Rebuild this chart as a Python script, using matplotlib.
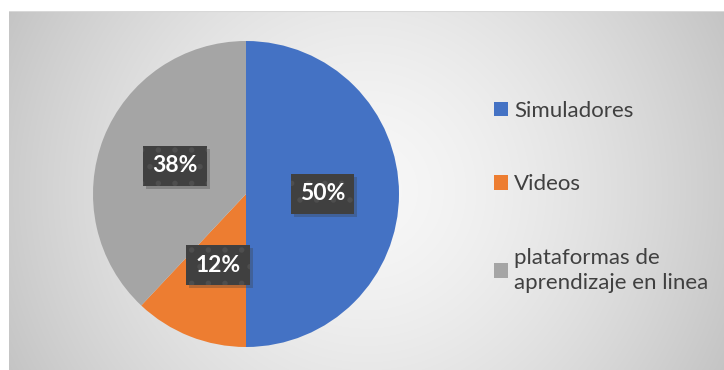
import numpy as np
import matplotlib
matplotlib.use('Agg')
import matplotlib.pyplot as plt
from matplotlib.patches import Rectangle

categories = ['Simuladores', 'Videos', 'plataformas de\naprendizaje en linea']
shares = [50, 12, 38]
colors = ['#4472C4', '#ED7D31', '#A5A5A5']

plt.rcParams['font.family'] = ['Lato', 'DejaVu Sans']
plt.rcParams['hatch.linewidth'] = 1.5

W, H = 724, 370
fig = plt.figure(figsize=(W / 100, H / 100), dpi=100)

# chart area background: radial gradient
bg = fig.add_axes([9 / W, 0, (W - 9) / W, (H - 11) / H])
yy, xx = np.mgrid[11:H, 9:W]
d = np.hypot(xx - 366, yy - 190) / 400
shade = 0.97 - 0.2 * np.clip(d, 0, 1.2) ** 1.5
bg.imshow(np.dstack([shade] * 3), aspect='auto', extent=(0, 1, 0, 1))
bg.plot([0, 1], [1, 1], color='#d8d8d8', lw=1.5, transform=bg.transAxes)
bg.axis('off')

# pie
cx, cy, r = 246, 194, 153
ax = fig.add_axes([(cx - r) / W, (H - cy - r) / H, 2 * r / W, 2 * r / H])
wedges, texts, autotexts = ax.pie(
    shares, colors=colors, startangle=90, counterclock=False,
    autopct='%d%%', pctdistance=0.5,
    wedgeprops=dict(linewidth=0),
    textprops=dict(color='white', fontsize=16.5, fontweight='bold', zorder=5))
ax.set_xlim(-1, 1)
ax.set_ylim(-1, 1)

for t in autotexts:
    t.set_bbox(dict(boxstyle='square,pad=0.4', facecolor='#404040',
                    edgecolor='#4e4e4e', linewidth=0, hatch='.'))

leg = fig.legend(wedges, categories, loc='center left',
                 bbox_to_anchor=(494 / W, 1 - 197 / H), borderaxespad=0,
                 frameon=False, fontsize=16, handlelength=0.63, handleheight=0.63,
                 handletextpad=0.28, labelspacing=2.4, borderpad=0)
for t in leg.get_texts():
    t.set_color('#404040')
    t.set_linespacing(1.35)

# soft drop shadow behind each label box (pixel coords, under the text)
fig.canvas.draw()
for t in autotexts:
    bb = t.get_bbox_patch().get_window_extent()
    ax.add_artist(Rectangle((bb.x0 + 3, bb.y0 - 3), bb.width, bb.height,
                            transform=None, facecolor='#3a3a3a', alpha=0.3,
                            linewidth=0, zorder=4))

fig.savefig('out.png', dpi=100)
